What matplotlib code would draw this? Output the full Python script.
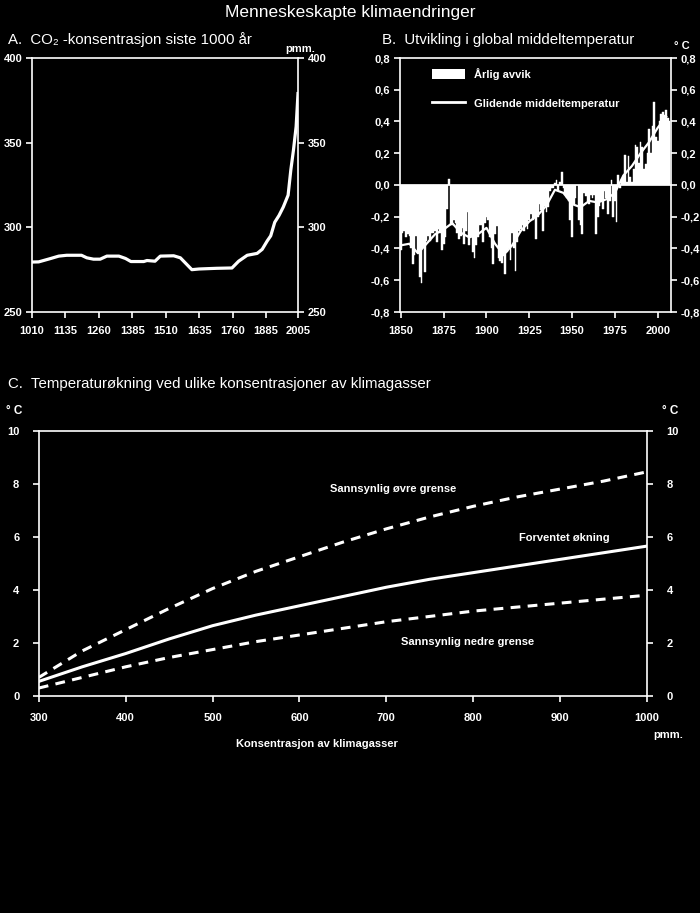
import matplotlib
matplotlib.use("Agg")
import matplotlib.pyplot as plt
from matplotlib import font_manager as fm
from matplotlib.patches import Patch
from matplotlib.lines import Line2D

def pick_font():
    for f in ["Liberation Sans Narrow", "Liberation Sans", "DejaVu Sans"]:
        try:
            fm.findfont(f, fallback_to_default=False)
            return f
        except Exception:
            pass
    return "DejaVu Sans"

FONT = pick_font()
plt.rcParams['font.family'] = [FONT, 'DejaVu Sans']
plt.rcParams['font.weight'] = 'bold'

# ---------------- Data ----------------
# Panel A: CO2 concentration (ppm)
co2_years = [1010, 1035, 1080, 1110, 1140, 1195, 1215, 1240, 1265, 1290, 1335, 1360,
             1380, 1428, 1440, 1470, 1490, 1540, 1565, 1608, 1635, 1700, 1758, 1783,
             1815, 1852, 1871, 1890, 1903, 1918, 1934, 1950, 1968, 1978, 1988, 1998, 2005]
co2_ppm = [279.5, 279.6, 281.6, 283.0, 283.5, 283.5, 282.0, 281.2, 281.2, 283.0, 283.0, 281.6,
           279.8, 279.8, 280.4, 280.0, 283.0, 283.2, 282.0, 275.0, 275.4, 275.8, 276.0, 280.0,
           283.5, 284.6, 287.0, 292.0, 295.0, 303.0, 307.0, 312.0, 319.0, 333.7, 345.6, 359.5, 379.0]
co2_xticks = [1010, 1135, 1260, 1385, 1510, 1635, 1760, 1885, 2005]
co2_yticks = [250, 300, 350, 400]

# Panel B: annual global temperature anomaly (deg C)
temp_start = 1850
temp_anom = [
    -0.41, -0.30, -0.29, -0.33, -0.31, -0.32, -0.40, -0.50, -0.44, -0.32,   # 1850-1859
    -0.43, -0.58, -0.62, -0.39, -0.55, -0.35, -0.32, -0.35, -0.30, -0.30,   # 1860-1869
    -0.29, -0.36, -0.28, -0.30, -0.41, -0.37, -0.33, -0.15, 0.04, -0.25,    # 1870-1879
    -0.25, -0.22, -0.24, -0.30, -0.34, -0.32, -0.27, -0.37, -0.29, -0.17,   # 1880-1889
    -0.38, -0.33, -0.42, -0.46, -0.38, -0.33, -0.25, -0.25, -0.36, -0.24,   # 1890-1899
    -0.20, -0.22, -0.33, -0.40, -0.50, -0.31, -0.26, -0.46, -0.48, -0.49,   # 1900-1909
    -0.45, -0.56, -0.42, -0.40, -0.47, -0.30, -0.40, -0.54, -0.36, -0.29,   # 1910-1919
    -0.28, -0.25, -0.29, -0.26, -0.28, -0.22, -0.18, -0.22, -0.20, -0.34,   # 1920-1929
    -0.20, -0.12, -0.16, -0.29, -0.13, -0.17, -0.14, -0.04, -0.02, -0.02,   # 1930-1939
    0.01, 0.03, -0.03, 0.02, 0.08, -0.02, -0.06, -0.08, -0.10, -0.22,       # 1940-1949
    -0.33, -0.12, -0.08, 0.00, -0.22, -0.25, -0.31, -0.05, -0.07, -0.10,    # 1950-1959
    -0.12, -0.06, -0.08, -0.06, -0.31, -0.20, -0.13, -0.10, -0.15, -0.04,   # 1960-1969
    -0.08, -0.18, -0.10, 0.03, -0.20, -0.10, -0.23, 0.06, -0.02, 0.04,      # 1970-1979
    0.06, 0.19, 0.02, 0.18, 0.05, 0.02, 0.10, 0.25, 0.24, 0.14,             # 1980-1989
    0.27, 0.24, 0.10, 0.13, 0.20, 0.35, 0.20, 0.37, 0.52, 0.30,             # 1990-1999
    0.28, 0.40, 0.45, 0.46, 0.44, 0.47, 0.42, 0.40,                         # 2000-2007
]
temp_years = list(range(temp_start, temp_start + len(temp_anom)))
smooth_years = [1850, 1855, 1860, 1865, 1870, 1875, 1880, 1885, 1890, 1895, 1900,
                1905, 1910, 1915, 1920, 1925, 1930, 1935, 1940, 1945, 1950, 1955,
                1960, 1965, 1970, 1975, 1980, 1985, 1990, 1995, 2000, 2005]
smooth_vals = [-0.38, -0.37, -0.43, -0.37, -0.31, -0.28, -0.24, -0.30, -0.33, -0.31, -0.27,
               -0.37, -0.44, -0.38, -0.29, -0.23, -0.19, -0.13, -0.03, -0.05, -0.12, -0.14,
               -0.10, -0.11, -0.09, -0.05, 0.06, 0.12, 0.20, 0.27, 0.36, 0.43]
temp_xticks = [1850, 1875, 1900, 1925, 1950, 1975, 2000]
temp_yticks = [-0.8, -0.6, -0.4, -0.2, 0.0, 0.2, 0.4, 0.6, 0.8]

# Panel C: temperature increase vs concentration
conc = [300, 350, 400, 450, 500, 550, 600, 650, 700, 750, 800, 850, 900, 950, 1000]
t_expected = [0.55, 1.1, 1.6, 2.15, 2.65, 3.05, 3.4, 3.75, 4.1, 4.4, 4.65, 4.9, 5.15, 5.4, 5.65]
t_upper = [0.7, 1.7, 2.5, 3.3, 4.05, 4.7, 5.25, 5.8, 6.3, 6.75, 7.15, 7.5, 7.8, 8.1, 8.45]
t_lower = [0.3, 0.7, 1.1, 1.45, 1.75, 2.05, 2.3, 2.55, 2.8, 3.0, 3.2, 3.35, 3.5, 3.65, 3.8]
conc_xticks = [300, 400, 500, 600, 700, 800, 900, 1000]
conc_yticks = [0, 2, 4, 6, 8, 10]

# ---------------- Figure ----------------
W, H = 700, 913
fig = plt.figure(figsize=(W / 100, H / 100), dpi=100, facecolor='black')

def ax_px(l, t, r, b):
    return fig.add_axes([l / W, 1 - b / H, (r - l) / W, (b - t) / H])

def style(ax, fs=8):
    ax.set_facecolor('black')
    for s in ax.spines.values():
        s.set_color('white')
        s.set_linewidth(1.2)
    ax.tick_params(colors='white', which='both', direction='out', length=4, width=1.2,
                   labelsize=fs, pad=3)
    ax.tick_params(axis='y', left=True, right=True, labelleft=True, labelright=True)

W_ = 'white'
TW = 'normal'   # weight of the titles

# Title
fig.text(350 / W, 1 - 12 / H, "Menneskeskapte klimaendringer", color=W_, fontsize=12.5,
         fontweight=TW, ha='center', va='center')

# ---- Panel A ----
axA = ax_px(32, 58, 298, 312)
style(axA)
axA.plot(co2_years, co2_ppm, color=W_, lw=2.3, solid_joinstyle='round')
axA.set_xlim(1010, 2005)
axA.set_ylim(250, 400)
axA.set_xticks(co2_xticks)
axA.set_yticks(co2_yticks)
axA.tick_params(axis='x', pad=6)
fig.text(8 / W, 1 - 40 / H, "A.  CO\u2082 -konsentrasjon siste 1000 år", color=W_,
         fontsize=10.8, fontweight=TW, ha='left', va='center')
fig.text(300 / W, 1 - 49 / H, "pmm.", color=W_, fontsize=8, ha='center', va='center')

# ---- Panel B ----
axB = ax_px(400, 58, 671, 312)
style(axB)
axB.bar(temp_years, temp_anom, width=1.0, color=W_, edgecolor=W_, linewidth=0.3)
axB.plot(smooth_years, smooth_vals, color=W_, lw=1.6)
axB.axhline(0, color=W_, lw=1.2)
axB.set_xlim(1849.5, 2007.8)
axB.set_ylim(-0.8, 0.8)
axB.set_xticks(temp_xticks)
axB.set_yticks(temp_yticks)
axB.set_yticklabels([f"{v:.1f}".replace('.', ',') for v in temp_yticks])
axB.tick_params(axis='x', pad=6)
handles = [Patch(facecolor=W_, edgecolor='none'), Line2D([0], [0], color=W_, lw=2)]
leg = axB.legend(handles, ["Årlig avvik", "Glidende middeltemperatur"], loc='upper left',
                 bbox_to_anchor=(0.08, 1.0), frameon=False, fontsize=8,
                 labelcolor=W_, handlelength=3.0, handleheight=1.1, labelspacing=1.6)
fig.text(382 / W, 1 - 40 / H, "B.  Utvikling i global middeltemperatur", color=W_,
         fontsize=10.8, fontweight=TW, ha='left', va='center')
fig.text(682 / W, 1 - 46 / H, "° C", color=W_, fontsize=8, ha='center', va='center')

# ---- Panel C ----
axC = ax_px(38.8, 430.7, 647, 696)
style(axC)
axC.plot(conc, t_upper, color=W_, lw=2.2, dashes=(3.2, 2.4))
axC.plot(conc, t_expected, color=W_, lw=2.2)
axC.plot(conc, t_lower, color=W_, lw=2.2, dashes=(3.2, 2.4))
axC.set_xlim(300, 1000)
axC.set_ylim(0, 10)
axC.set_xticks(conc_xticks)
axC.set_yticks(conc_yticks)
axC.tick_params(axis='x', pad=8)
axC.tick_params(axis='y', pad=10)
axC.text(708, 7.8, "Sannsynlig øvre grense", color=W_, fontsize=8, ha='center', va='center')
axC.text(905, 5.96, "Forventet økning", color=W_, fontsize=8, ha='center', va='center')
axC.text(794, 2.04, "Sannsynlig nedre grense", color=W_, fontsize=8, ha='center', va='center')
fig.text(8 / W, 1 - 384 / H, "C.  Temperaturøkning ved ulike konsentrasjoner av klimagasser",
         color=W_, fontsize=10.8, fontweight=TW, ha='left', va='center')
fig.text(14 / W, 1 - 411 / H, "° C", color=W_, fontsize=8.5, ha='center', va='center')
fig.text(670 / W, 1 - 411 / H, "° C", color=W_, fontsize=8.5, ha='center', va='center')
fig.text(317 / W, 1 - 744 / H, "Konsentrasjon av klimagasser", color=W_, fontsize=8,
         ha='center', va='center')
fig.text(668 / W, 1 - 735 / H, "pmm.", color=W_, fontsize=8, ha='center', va='center')

fig.savefig("out.png", dpi=100, facecolor='black')
